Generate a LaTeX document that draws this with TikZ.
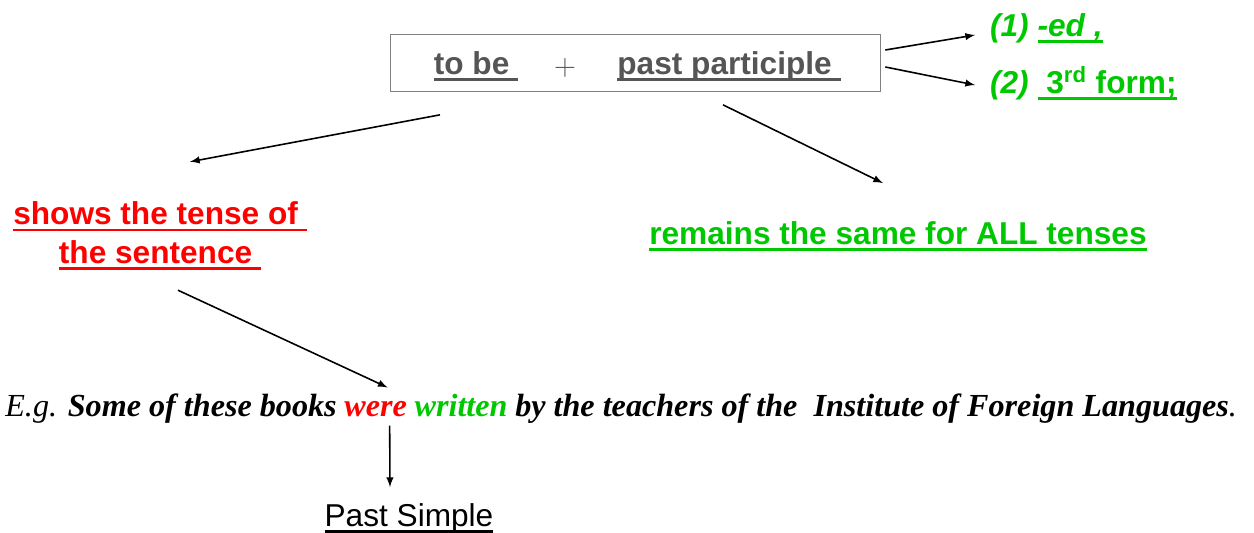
\documentclass[tikz,border=0pt]{standalone}
\usepackage{fontspec}
\setmainfont{Liberation Serif}
\setsansfont{Liberation Sans}
\newsavebox{\ulbox}
\newcommand{\ulbar}[1]{\sbox{\ulbox}{#1}\rlap{\raisebox{-3.8pt}{\rule{\wd\ulbox}{1.6pt}}}\usebox{\ulbox}}
\definecolor{mygreen}{RGB}{0,200,0}
\definecolor{mygray}{RGB}{85,85,85}
\usepackage{tikz}
\usetikzlibrary{arrows,positioning}

\begin{document}
\begin{tikzpicture}[
  x=0.02cm,y=-0.02cm,
  myarrow/.style={
    -latex,
    line width=0.9pt
    },
  mybox/.style={
    draw=gray,
    minimum width=9.8cm,
    minimum height=1.14cm
  },
  mylabel/.style={
    font=\sffamily\bfseries\fontsize{18}{22}\selectfont,
    inner sep=1pt
  },
  mysent/.style={
    font=\rmfamily\bfseries\itshape\fontsize{18.3}{22}\selectfont,
    inner sep=0pt,
    anchor=base west
  }
]
\useasboundingbox (0,0) rectangle (1254,533);

% formula
\node[mybox] (rule) at (635,63) {};
\node[mylabel,text=mygray] (tobe) at (476,66) {\ulbar{to be\ }};
\node[mylabel,text=mygray,font=\fontsize{18}{22}\selectfont] (plus) at (565,68) {$+$};
\node[mylabel,text=mygray] (partic) at (729,66) {\ulbar{past participle\ }};

% forms of the participle
\node[mylabel,text=mygreen,anchor=west] (ed) at (988,28) {\itshape(1) \ulbar{-ed ,}};
\node[mylabel,text=mygreen,anchor=west] (third) at (988,83) {{\itshape(2)} \ulbar{\ 3\textsuperscript{rd} form;}};
\draw[myarrow] ([shift={(5,-13)}]rule.east) -- ([shift={(-13,7)}]ed.west);
\draw[myarrow] ([shift={(5,4)}]rule.east) -- ([shift={(-13,2)}]third.west);

% what each part does
\node[mylabel,text=red,align=center] (tense) at (160,236)
  {\ulbar{shows the tense of\ }\\\ulbar{the sentence\ }};
\node[mylabel,text=mygreen] (same) at (898,236) {\ulbar{remains the same for ALL tenses}};
\draw[myarrow] ([shift={(-195,23)}]rule.south) -- ([shift={(30,-38)}]tense.north);
\draw[myarrow] ([shift={(88,13)}]rule.south) -- ([shift={(-15,-36)}]same.north);

% example sentence
\node[mysent] (eg) at (5,417) {{\mdseries E.g.} Some of these books};
\node[mysent,text=red] (were) at ([xshift=4pt]eg.base east) {were};
\node[mysent,text=mygreen] (written) at ([xshift=4pt]were.base east) {written};
\node[mysent] (rest) at ([xshift=4pt]written.base east)
  {by the teachers of the \ Institute of Foreign Languages{\mdseries .}};
\draw[myarrow] ([shift={(18,18)}]tense.south) -- ([shift={(12,-14)}]were.north);

\node[font=\sffamily\fontsize{18}{22}\selectfont,inner sep=1pt] (tensename) at (409,518) {\ulbar{Past Simple}};
\draw[myarrow] ([shift={(14,8)}]were.south) -- ([shift={(-19,-14)}]tensename.north);

\end{tikzpicture}
\end{document}
